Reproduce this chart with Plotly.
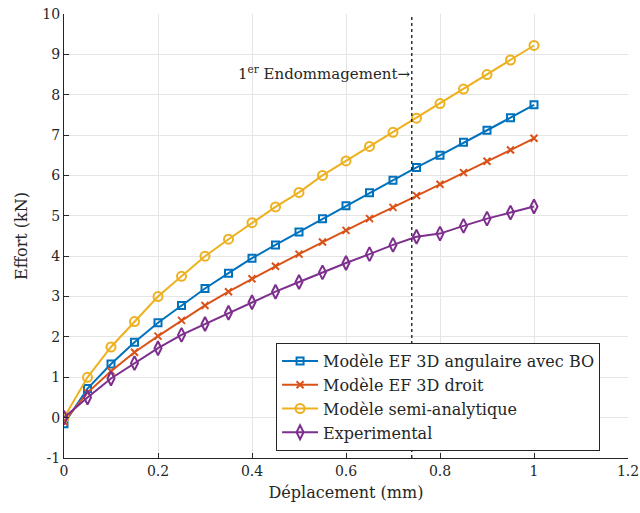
import plotly.graph_objects as go

x_disp = [0, 0.05, 0.1, 0.15, 0.2, 0.25, 0.3, 0.35, 0.4, 0.45, 0.5,
          0.55, 0.6, 0.65, 0.7, 0.75, 0.8, 0.85, 0.9, 0.95, 1.0]
ef_angulaire = [-0.15, 0.72, 1.33, 1.87, 2.35, 2.78, 3.2, 3.58, 3.95, 4.28, 4.6,
                4.93, 5.25, 5.57, 5.88, 6.2, 6.5, 6.82, 7.12, 7.43, 7.75]
ef_droit = [-0.1, 0.62, 1.15, 1.62, 2.02, 2.41, 2.78, 3.12, 3.44, 3.75, 4.05,
            4.35, 4.64, 4.93, 5.21, 5.5, 5.78, 6.07, 6.35, 6.63, 6.92]
semi_analytique = [0, 1.0, 1.75, 2.38, 3.0, 3.5, 4.0, 4.42, 4.83, 5.22, 5.58,
                   6.0, 6.36, 6.72, 7.07, 7.42, 7.78, 8.14, 8.5, 8.86, 9.22]
experimental = [0, 0.5, 0.97, 1.35, 1.72, 2.05, 2.32, 2.6, 2.86, 3.12, 3.36,
                3.6, 3.83, 4.05, 4.28, 4.48, 4.56, 4.75, 4.93, 5.08, 5.23]
damage_x = 0.74

x_ticks = [0, 0.2, 0.4, 0.6, 0.8, 1, 1.2]
x_ticktext = ["0", "0.2", "0.4", "0.6", "0.8", "1", "1.2"]
y_ticks = list(range(-1, 11))
y_ticktext = ["-1"] + [str(v) for v in range(0, 11)]

FONT = "DejaVu Serif"

fig = go.Figure()
series = [
    ("Modèle EF 3D angulaire avec BO", ef_angulaire, "#0072BD", "square-open", 7),
    ("Modèle EF 3D droit", ef_droit, "#D95319", "x-thin-open", 7),
    ("Modèle semi-analytique", semi_analytique, "#EDB120", "circle-open", 9),
    ("Experimental", experimental, "#7E2F8E", "diamond-tall-open", 10),
]
for name, ys, col, sym, sz in series:
    fig.add_trace(go.Scatter(
        x=x_disp, y=ys, name=name, mode="lines+markers",
        line=dict(color=col, width=2),
        marker=dict(symbol=sym, size=sz, color=col, line=dict(color=col, width=2)),
    ))

fig.add_shape(type="line", x0=damage_x, x1=damage_x, y0=-1, y1=10,
              xref="x", yref="y", line=dict(color="black", width=1.2, dash="dot"))
fig.add_annotation(x=damage_x, y=8.54, xref="x", yref="y",
                   text="1<sup>er</sup> Endommagement→", showarrow=False,
                   xanchor="right", yanchor="middle",
                   font=dict(family=FONT, size=15, color="#262626"))

fig.update_layout(
    width=640, height=513,
    margin=dict(l=64, r=12, t=14, b=55, autoexpand=False),
    paper_bgcolor="white", plot_bgcolor="white",
    font=dict(family=FONT, size=14, color="#262626"),
    showlegend=True,
    legend=dict(x=0.376, y=0.259, xanchor="left", yanchor="top",
                bgcolor="white", bordercolor="#262626", borderwidth=1,
                font=dict(family=FONT, size=16, color="#262626"),
                tracegroupgap=0, itemwidth=36),
    xaxis=dict(range=[0, 1.2], tickvals=x_ticks, ticktext=x_ticktext,
               showgrid=True, gridcolor="#e5e5e5", gridwidth=1,
               showline=True, linecolor="#262626", linewidth=1,
               ticks="inside", ticklen=5, tickcolor="#262626",
               zeroline=False, mirror=False, automargin=False,
               title=dict(text="Déplacement (mm)", font=dict(size=16), standoff=9)),
    yaxis=dict(range=[-1, 10], tickvals=y_ticks, ticktext=y_ticktext,
               showgrid=True, gridcolor="#e5e5e5", gridwidth=1,
               showline=True, linecolor="#262626", linewidth=1,
               ticks="inside", ticklen=5, tickcolor="#262626",
               zeroline=False, mirror=False, automargin=False,
               title=dict(text="Effort (kN)", font=dict(size=16), standoff=10)),
)

fig.write_html("out.html", config={"displayModeBar": False},
               post_script="document.body.style.margin='0';")
